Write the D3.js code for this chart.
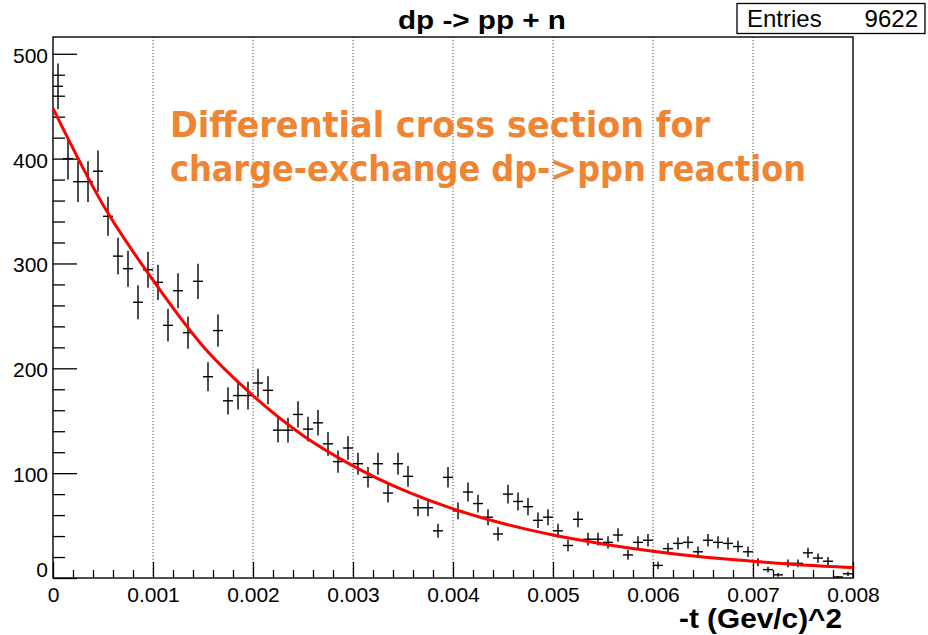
<!DOCTYPE html>
<html><head><meta charset="utf-8">
<script src="https://cdn.jsdelivr.net/npm/d3@7"></script>
<style>body{margin:0;background:#fff}svg{display:block}</style></head>
<body><svg id="c" width="928" height="635"></svg>
<script>
// ---- data ----
const histRange = [0, 0.008];
const binWidth = 0.0001;
const counts = [
  469, 400, 378, 378, 388, 345, 307, 295, 263, 294,
  282, 241, 274, 234, 283, 192, 236, 169, 174, 174,
  186, 179, 141, 141, 156, 142, 148, 128, 111, 124,
  109,  96, 109,  81, 109,  97,  67,  67,  45,  96,
   64,  82,  71,  58,  42,  80,  73,  68,  55,  58,
   45,  31,  56,  37,  37,  34,  41,  22,  34,  36,
   12,  28,  33,  34,  25,  36,  34,  33,  30,  25,
   15,   8,   3,  14,  14,  24,  19,  16,   1,   4
];
const fitX = [0, 0.0005, 0.001, 0.0015, 0.002, 0.0025, 0.003, 0.0035, 0.004,
              0.0045, 0.005, 0.0055, 0.006, 0.0065, 0.007, 0.0075, 0.008];
const fitY = [448, 356, 284, 221, 174, 136, 107, 84, 66, 52, 41, 32.5, 25.5, 20, 16, 12.5, 10];
const xMajor = [0, 0.001, 0.002, 0.003, 0.004, 0.005, 0.006, 0.007, 0.008];
const xLabels = ["0", "0.001", "0.002", "0.003", "0.004", "0.005", "0.006", "0.007", "0.008"];
const yMajor = [0, 100, 200, 300, 400, 500];
const yLabels = ["0", "100", "200", "300", "400", "500"];
const yMinorStep = 20;
const xMinorStep = 0.0002;
const titleText = "dp -> pp + n";
const xTitle = "-t (Gev/c)^2";
const statsLabel = "Entries";
const statsValue = "9622";
const noteLines = ["Differential cross section for", "charge-exchange dp->ppn reaction"];

// ---- drawing ----
const svg = d3.select("#c");
const L = 53, R = 853, T = 37, B = 578;
const x = d3.scaleLinear().domain(histRange).range([L, R]);
const y = d3.scaleLinear().domain([0, 516]).range([B, T]);
const font = "'Liberation Sans', Arial, Helvetica, sans-serif";

svg.append("rect").attr("width", 928).attr("height", 635).attr("fill", "#fff");

// grid
svg.append("g").selectAll("line").data(xMajor.slice(1, -1)).join("line")
  .attr("x1", d => x(d)).attr("x2", d => x(d)).attr("y1", T).attr("y2", B)
  .attr("stroke", "#222").attr("stroke-width", 1).attr("stroke-dasharray", "1,2.2");

// minor tick values
const xMinor = d3.range(0, 40).map(i => i * xMinorStep).filter(v => v <= 0.008 + 1e-9 && Math.abs(v / 0.001 - Math.round(v / 0.001)) > 1e-6);
const yMinor = d3.range(0, 26).map(i => i * yMinorStep).filter(v => v % 100 !== 0);

// x axis
const gx = svg.append("g").attr("transform", `translate(0,${B})`);
gx.call(d3.axisBottom(x).tickValues(xMinor).tickSize(-8).tickFormat(""));
const gx2 = svg.append("g").attr("transform", `translate(0,${B})`);
gx2.call(d3.axisBottom(x).tickValues(xMajor).tickSize(-16).tickPadding(9)
  .tickFormat((d, i) => xLabels[i]));
[gx, gx2].forEach(g => { g.select(".domain").remove(); g.selectAll("line").attr("stroke", "#000").attr("stroke-width", 1.3); });
gx2.selectAll("text").attr("font-family", font).attr("font-size", 21).attr("fill", "#000");

// y axis
const gy = svg.append("g").attr("transform", `translate(${L},0)`);
gy.call(d3.axisLeft(y).tickValues(yMinor).tickSize(-12).tickFormat(""));
const gy2 = svg.append("g").attr("transform", `translate(${L},0)`);
gy2.call(d3.axisLeft(y).tickValues(yMajor).tickSize(-24).tickPadding(5)
  .tickFormat((d, i) => yLabels[i]));
[gy, gy2].forEach(g => { g.select(".domain").remove(); g.selectAll("line").attr("stroke", "#000").attr("stroke-width", 1.3); });
gy2.selectAll("text").attr("font-family", font).attr("font-size", 21).attr("fill", "#000")
  .attr("x", -5).attr("dy", d => d === 0 ? "-0.05em" : "0.4em");

// frame
svg.append("rect").attr("x", L).attr("y", T).attr("width", R - L).attr("height", B - T)
  .attr("fill", "none").attr("stroke", "#000").attr("stroke-width", 1.4);

// data crosses
const pts = counts.map((c, i) => ({ lo: histRange[0] + i * binWidth, c }));
const gd = svg.append("g").attr("stroke", "#000").attr("stroke-width", 1.4);
gd.selectAll(".h").data(pts).join("line").attr("class", "h")
  .attr("x1", d => x(d.lo)).attr("x2", d => x(d.lo + binWidth))
  .attr("y1", d => y(d.c)).attr("y2", d => y(d.c));
gd.selectAll(".v").data(pts).join("line").attr("class", "v")
  .attr("x1", d => x(d.lo + binWidth / 2)).attr("x2", d => x(d.lo + binWidth / 2))
  .attr("y1", d => y(Math.max(0, d.c - Math.sqrt(d.c)))).attr("y2", d => y(d.c + Math.sqrt(d.c)));

// fit curve
svg.append("path").datum(fitX.map((v, i) => [v, fitY[i]]))
  .attr("d", d3.line().x(d => x(d[0])).y(d => y(d[1])).curve(d3.curveMonotoneX))
  .attr("fill", "none").attr("stroke", "#ff0000").attr("stroke-width", 3);

// title
svg.append("text").attr("x", 482).attr("y", 29).attr("text-anchor", "middle")
  .attr("font-family", font).attr("font-weight", "bold").attr("font-size", 26)
  .attr("textLength", 168).attr("lengthAdjust", "spacingAndGlyphs").text(titleText);

// stats box
svg.append("rect").attr("x", 737).attr("y", 3.5).attr("width", 188).attr("height", 30)
  .attr("fill", "#fff").attr("stroke", "#000").attr("stroke-width", 1.3);
svg.append("text").attr("x", 747).attr("y", 27).attr("font-family", font).attr("font-size", 24).text(statsLabel);
svg.append("text").attr("x", 918).attr("y", 27).attr("text-anchor", "end").attr("font-family", font).attr("font-size", 24).text(statsValue);

// x title
svg.append("text").attr("x", 842).attr("y", 628).attr("text-anchor", "end")
  .attr("font-family", font).attr("font-weight", "bold").attr("font-size", 27)
  .attr("textLength", 163).attr("lengthAdjust", "spacingAndGlyphs").text(xTitle);

// annotation
const noteFont = "'Comic Sans MS', 'DejaVu Sans Condensed', 'DejaVu Sans', sans-serif";
const noteLen = [540, 636];
noteLines.forEach((t, i) => {
  svg.append("text").attr("x", 170).attr("y", 137 + i * 44)
    .attr("font-family", noteFont).attr("font-weight", "bold").attr("font-size", 36)
    .attr("fill", "#ef8432").attr("textLength", noteLen[i]).attr("lengthAdjust", "spacingAndGlyphs").text(t);
});
</script></body></html>
